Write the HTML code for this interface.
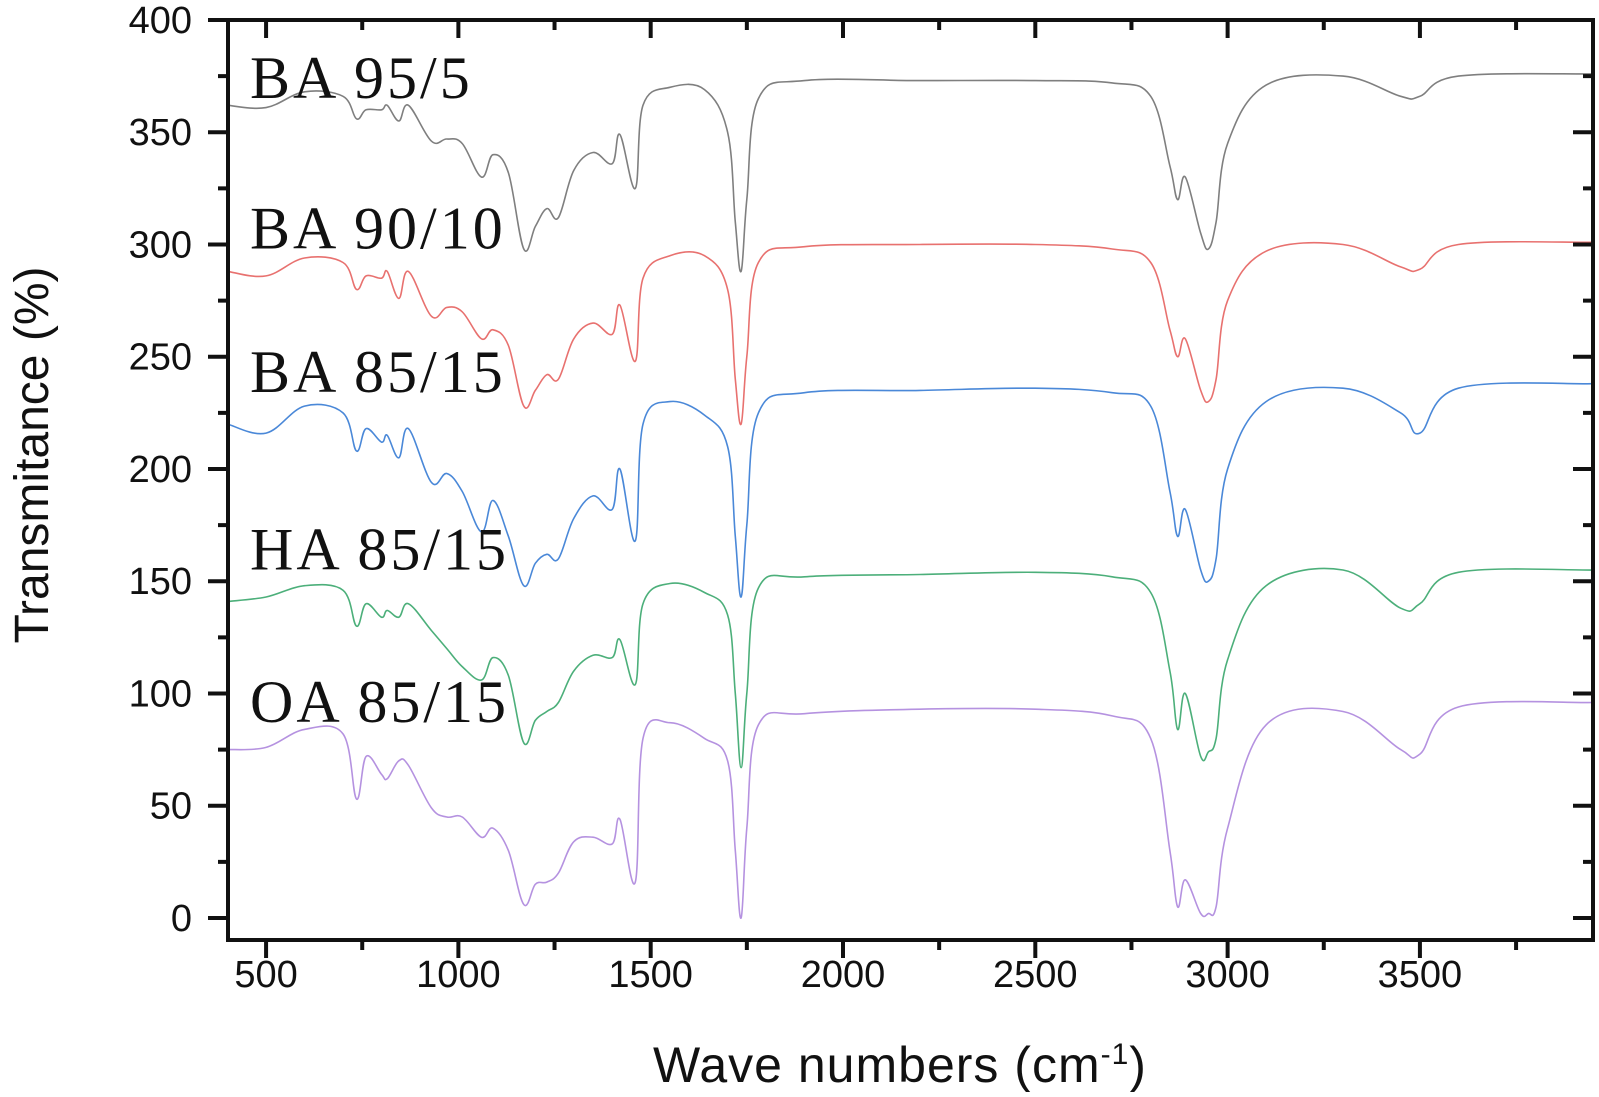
<!DOCTYPE html>
<html><head><meta charset="utf-8"><style>
body{margin:0;background:#fff;}
svg text{font-family:"Liberation Sans",Arial,sans-serif;fill:#111;}
</style></head><body>
<svg id="chart" width="1599" height="1092" viewBox="0 0 1599 1092" xmlns="http://www.w3.org/2000/svg"></svg>
<script>
const wavenumbers=[400,500,600,700,735,760,800,815,845,870,930,970,1010,1060,1090,1130,1170,1200,1230,1260,1300,1350,1400,1420,1460,1480,1550,1640,1700,1720,1735,1750,1780,1900,2200,2500,2700,2800,2850,2870,2890,2930,2950,2970,3000,3100,3300,3450,3500,3600,3950];
const seriesNames=["BA 95/5","BA 90/10","BA 85/15","HA 85/15","OA 85/15"];
const seriesColors=["#7f7f7f","#e8716f","#4a88d8","#4caf7a","#b592e0"];
const ba95=[362,361,368,366,356,360,360,362,355,362,346,347,345,330,340,332,298,308,316,312,333,341,336,349,325,362,370,369,350,310,288,320,365,373,373,373,372,366,335,320,330,305,298,310,345,371,375,366,366,375,376];
const ba90=[288,286,294,292,280,286,285,288,276,288,268,272,270,258,262,255,228,235,242,240,258,265,260,273,248,285,295,295,280,240,220,250,292,299,300,300,298,292,262,250,258,235,230,240,275,297,300,290,289,300,301];
const ba85=[220,216,228,225,208,218,212,215,205,218,194,198,190,172,186,170,148,158,162,160,178,188,182,200,168,220,230,224,210,170,143,175,225,234,235,236,234,228,190,170,182,155,150,160,200,230,236,225,216,236,238];
const ha85=[141,143,148,146,130,140,134,137,134,140,128,120,112,106,116,108,78,88,92,96,110,117,116,124,104,140,149,145,135,100,67,100,147,152,153,154,152,145,110,84,100,72,74,80,115,148,155,138,140,154,155];
const oa85=[75,76,84,82,53,72,64,62,70,68,49,45,45,36,40,30,6,15,16,20,34,36,33,44,16,80,87,80,70,30,0,40,86,91,93,93,90,80,30,5,17,2,2,5,40,86,92,75,73,94,96];
const xTicks=[500,1000,1500,2000,2500,3000,3500];
const yTicks=[0,50,100,150,200,250,300,350,400];
const labelValues=[375,308,244,165,97];

const svg=document.getElementById('chart');
const NS="http://www.w3.org/2000/svg";
const L=228,R=1593,T=20,B=940;
const xMin=401,xMax=3950,yMin=-9.8,yMax=400;
const X=v=>L+(v-xMin)/(xMax-xMin)*(R-L);
const Y=v=>T+(yMax-v)/(yMax-yMin)*(B-T);
function el(tag,attrs,parent){const e=document.createElementNS(NS,tag);for(const k in attrs)e.setAttribute(k,attrs[k]);(parent||svg).appendChild(e);return e;}
function smooth(pts){
  let d='M'+pts[0][0].toFixed(1)+' '+pts[0][1].toFixed(1);
  const k=0.18;
  for(let i=0;i<pts.length-1;i++){
    const p0=pts[Math.max(0,i-1)],p1=pts[i],p2=pts[i+1],p3=pts[Math.min(pts.length-1,i+2)];
    const c1x=p1[0]+(p2[0]-p0[0])*k,c1y=p1[1]+(p2[1]-p0[1])*k;
    const c2x=p2[0]-(p3[0]-p1[0])*k,c2y=p2[1]-(p3[1]-p1[1])*k;
    d+=' C'+c1x.toFixed(1)+' '+c1y.toFixed(1)+' '+c2x.toFixed(1)+' '+c2y.toFixed(1)+' '+p2[0].toFixed(1)+' '+p2[1].toFixed(1);
  }
  return d;
}

const allSeries=[ba95,ba90,ba85,ha85,oa85];
allSeries.forEach((vals,i)=>{
  const pts=vals.map((v,j)=>[X(wavenumbers[j]),Y(v)]);
  const p=el('path',{d:smooth(pts),fill:'none',stroke:seriesColors[i],'stroke-width':1.6,'stroke-linejoin':'round'});
  
  
  const t=el('text',{x:250,y:Y(labelValues[i])+22,'font-size':60,'letter-spacing':3,style:'font-family:"Liberation Serif",serif'});
  t.textContent=seriesNames[i];
  
  
});

const frame=el('rect',{x:L,y:T,width:R-L,height:B-T,fill:'none',stroke:'#111','stroke-width':4});



for(let v=500;v<=3750;v+=250){
  const major=v%500===0, x=X(v);
  const t1=el('line',{x1:x,x2:x,y1:B,y2:B+(major?18:10),stroke:'#111','stroke-width':4});
  
  
  const t2=el('line',{x1:x,x2:x,y1:T,y2:T+(major?18:10),stroke:'#111','stroke-width':4});
  
  
}
xTicks.forEach(v=>{
  const t=el('text',{x:X(v),y:987,'font-size':38,'text-anchor':'middle'});
  t.textContent=v;
  
  
});
for(let v=0;v<=400;v+=25){
  const major=v%50===0, y=Y(v);
  const t1=el('line',{x1:L,x2:L-(major?20:10),y1:y,y2:y,stroke:'#111','stroke-width':4});
  
  
  const t2=el('line',{x1:R,x2:R-(major?20:10),y1:y,y2:y,stroke:'#111','stroke-width':4});
  
  
}
yTicks.forEach(v=>{
  const t=el('text',{x:192,y:Y(v)+13,'font-size':38,'text-anchor':'end'});
  t.textContent=v;
  
  
});
const xt=el('text',{x:900,y:1082,'font-size':50,'text-anchor':'middle','letter-spacing':1});
xt.innerHTML='Wave numbers (cm<tspan dy="-18" font-size="30">-1</tspan><tspan dy="18">)</tspan>';


const yt=el('text',{x:0,y:0,'font-size':48,'text-anchor':'middle',transform:'translate(48,455) rotate(-90)'});
yt.textContent='Transmitance (%)';


</script>
</body></html>
